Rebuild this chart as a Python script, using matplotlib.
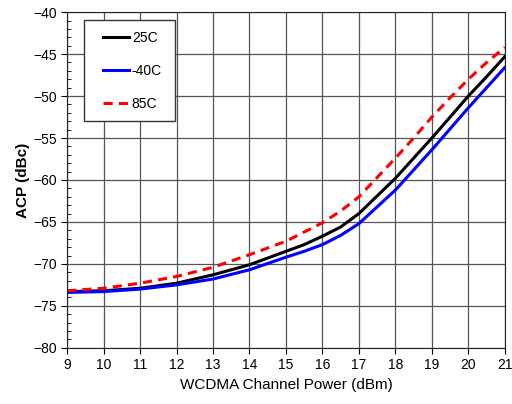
import matplotlib
matplotlib.use("Agg")
import matplotlib.pyplot as plt
from matplotlib.patches import Rectangle
from matplotlib.ticker import MultipleLocator

# WCDMA channel power (dBm)
potencia = [9, 10, 11, 12, 13, 14, 15, 15.5, 16, 16.5, 17, 17.5, 18, 18.5, 19, 19.5, 20, 20.5, 21]

# ACP (dBc) per temperature
acp_25c = [-73.3, -73.2, -72.9, -72.3, -71.3, -70.1, -68.5, -67.7, -66.7, -65.6, -64.0, -61.9,
           -59.8, -57.4, -55.0, -52.5, -50.0, -47.7, -45.3]
acp_m40c = [-73.4, -73.3, -73.0, -72.5, -71.8, -70.7, -69.2, -68.5, -67.7, -66.6, -65.2, -63.2,
            -61.2, -58.8, -56.4, -53.9, -51.4, -49.0, -46.6]
acp_85c = [-73.2, -72.9, -72.3, -71.5, -70.4, -68.9, -67.3, -66.2, -65.1, -63.7, -62.0, -59.7,
           -57.4, -55.0, -52.5, -50.2, -48.0, -46.0, -44.2]

plt.rcParams['font.family'] = ['Liberation Sans', 'DejaVu Sans']

fig = plt.figure(figsize=(5.12, 4.04), dpi=100)
ax = fig.add_axes([0.131, 0.139, 0.855, 0.831])

ax.plot(potencia, acp_25c, color='black', lw=2.2, label='25C')
ax.plot(potencia, acp_m40c, color='blue', lw=2.2, label='-40C')
ax.plot(potencia, acp_85c, color='red', lw=2.2, ls=(0, (3, 2)), label='85C')

ax.set_xlim(9, 21)
ax.set_ylim(-80, -40)
ax.xaxis.set_major_locator(MultipleLocator(1))
ax.yaxis.set_major_locator(MultipleLocator(5))
ax.yaxis.set_minor_locator(MultipleLocator(1))
ax.tick_params(axis='both', which='major', direction='out', length=4, labelsize=10)
ax.tick_params(axis='y', which='minor', direction='in', length=3)
ax.grid(True, which='major', color='#555555', lw=0.9)
for s in ax.spines.values():
    s.set_color('#222222')

ax.set_xlabel("WCDMA Channel Power (dBm)", fontsize=11, labelpad=4)
ax.set_ylabel("ACP (dBc)", fontsize=11, fontweight='bold', labelpad=2)

# caixa da legenda desenhada a parte
caixa = Rectangle((0.0388, 0.6756), 0.2078, 0.3006, transform=ax.transAxes,
                  facecolor='white', edgecolor='#333333', lw=1.0, zorder=4)
ax.add_patch(caixa)

leg = ax.legend(loc='upper left', bbox_to_anchor=(0.0822, 0.9435), fontsize=10,
                frameon=False, handlelength=1.87, labelspacing=1.37,
                borderpad=0, handletextpad=0.2, borderaxespad=0)
leg.set_zorder(5)

fig.savefig("out.png", dpi=100)
